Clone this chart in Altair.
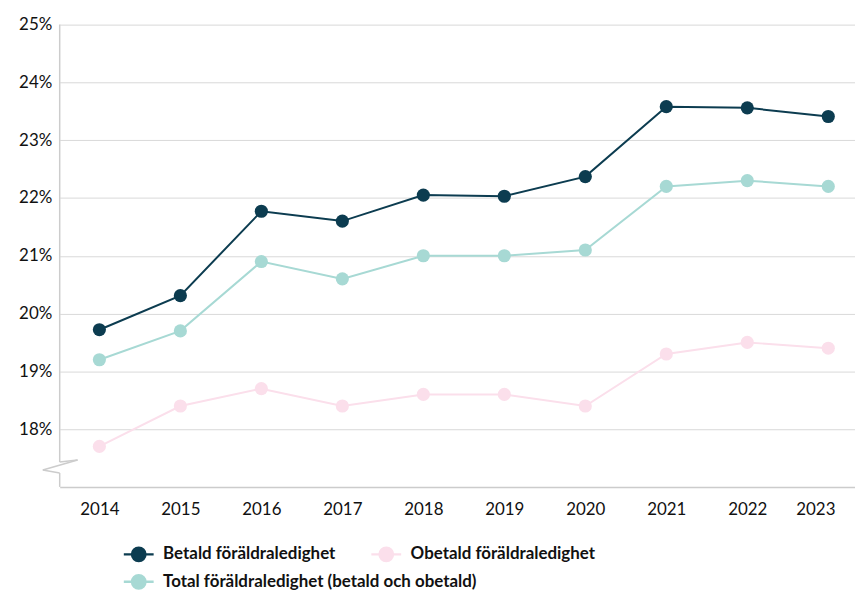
import altair as alt
import pandas as pd

years = [2014, 2015, 2016, 2017, 2018, 2019, 2020, 2021, 2022, 2023]
betald = [19.72, 20.31, 21.77, 21.60, 22.05, 22.03, 22.37, 23.58, 23.56, 23.41]
total = [19.2, 19.7, 20.9, 20.6, 21.0, 21.0, 21.1, 22.2, 22.3, 22.2]
obetald = [17.7, 18.4, 18.7, 18.4, 18.6, 18.6, 18.4, 19.3, 19.5, 19.4]

series_names = [
    "Betald föräldraledighet",
    "Obetald föräldraledighet",
    "Total föräldraledighet (betald och obetald)",
]
series_colors = ["#0c3c50", "#fbdfeb", "#a7d9d4"]
y_ticks = [18, 19, 20, 21, 22, 23, 24, 25]

rows = []
for name, vals in zip(series_names, [betald, obetald, total]):
    for yr, v in zip(years, vals):
        rows.append({"year": yr, "value": v, "series": name})
df = pd.DataFrame(rows)

FONT = "Lato"
SYMBOL = "M-1,0L1,0M0.45,0A0.45,0.45 0 1,1 -0.45,0A0.45,0.45 0 1,1 0.45,0Z"

legend_common = dict(
    title=None,
    orient="none",
    direction="horizontal",
    legendX=63,
    columnPadding=30,
    rowPadding=0,
    padding=0,
    symbolType=SYMBOL,
    symbolSize=900,
    symbolStrokeWidth=2.5,
    symbolOpacity=1,
    labelFont=FONT,
    labelFontSize=17,
    labelFontWeight="bold",
    labelColor="#111111",
    labelOffset=8,
    labelLimit=500,
)

color = alt.Color(
    "series:N",
    scale=alt.Scale(domain=series_names, range=series_colors),
    legend=alt.Legend(legendY=516, values=series_names[:2], **legend_common),
)

x = alt.X(
    "year:Q",
    scale=alt.Scale(domain=[2013.51, 2023.33], nice=False, zero=False),
    axis=alt.Axis(
        title=None,
        values=years,
        format="d",
        labelAngle=0,
        labelFont=FONT,
        labelFontSize=17,
        labelColor="#111111",
        labelPadding=15,
        labelFlush=False,
        labelOffset=alt.condition("datum.value == 2023", alt.value(-13), alt.value(0)),
        ticks=False,
        domainColor="#cccccc",
        domainWidth=1.5,
        grid=False,
    ),
)
y = alt.Y(
    "value:Q",
    scale=alt.Scale(domain=[17, 25], nice=False, zero=False),
    axis=alt.Axis(
        title=None,
        values=y_ticks,
        labelExpr="datum.value + '%'",
        labelFont=FONT,
        labelFontSize=17,
        labelColor="#111111",
        labelPadding=8,
        ticks=False,
        domain=False,
        gridColor="#d9d9d9",
        gridWidth=1,
    ),
)

base = alt.Chart(df).encode(x=x, y=y, color=color, detail="series:N")
lines = base.mark_line(strokeWidth=2)
points = base.mark_circle(size=175, opacity=1)

# second legend row (Total): an empty layer with its own fill/stroke scales
legend2 = alt.Legend(legendY=544, **legend_common)
total_scale = alt.Scale(domain=[series_names[2]], range=[series_colors[2]])
total_legend = (
    alt.Chart(df)
    .transform_filter("false")
    .mark_point(filled=True, strokeWidth=2.5, opacity=1)
    .encode(
        x=alt.X("year:Q"),
        y=alt.Y("value:Q"),
        fill=alt.Fill("series:N", scale=total_scale, legend=legend2),
        stroke=alt.Stroke("series:N", scale=total_scale, legend=legend2),
    )
)

one = pd.DataFrame({"a": [0]})
ax_col = "#cccccc"
segs = [
    (0, 0, 0, 440),
    (0, 440, 18, 438),
    (18, 438, -17, 448),
    (-17, 448, 0, 451),
    (0, 451, 0, 465),
]
deco = [
    alt.Chart(one).mark_rule(color=ax_col, strokeWidth=1.5).encode(
        x=alt.value(a), y=alt.value(b), x2=alt.value(c), y2=alt.value(d)
    )
    for a, b, c, d in segs
]

chart = alt.layer(lines, points, total_legend, *deco).properties(
    width=800,
    height=465,
    padding={"left": 52, "top": 15, "right": 0, "bottom": 103},
    autosize=alt.AutoSizeParams(type="none"),
).configure_view(stroke=None)

chart.save("out.html", embed_options={"renderer": "svg", "actions": False})
